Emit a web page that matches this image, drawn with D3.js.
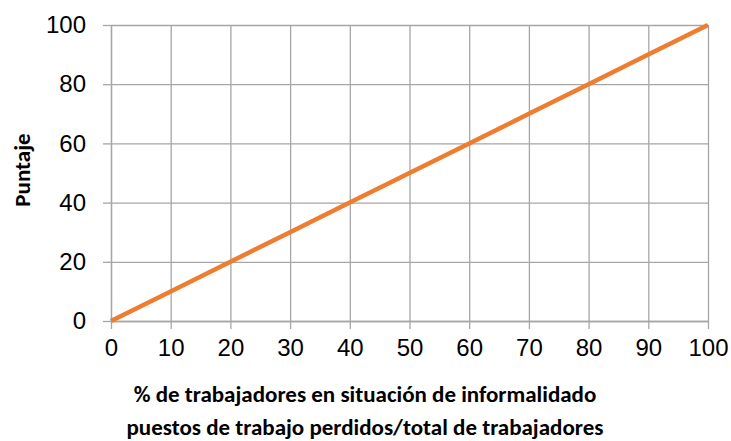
<!DOCTYPE html>
<html>
<head>
<meta charset="utf-8">
<script src="https://cdn.jsdelivr.net/npm/d3@7"></script>
<style>
  body { margin: 0; background: #fff; }
  svg { font-family: Carlito, "Liberation Sans", "DejaVu Sans", sans-serif; }
  .grid line { stroke: #a6a6a6; stroke-width: 1.3; }
  .grid path { display: none; }
  .axis text { font-size: 24px; fill: #000; }
  .axis path, .axis line { stroke: #a6a6a6; stroke-width: 1.3; }
</style>
</head>
<body>
<svg width="731" height="441"></svg>
<script>
//data
var xValues = [0, 10, 20, 30, 40, 50, 60, 70, 80, 90, 100];
var scores  = [0, 10, 20, 30, 40, 50, 60, 70, 80, 90, 100];
var xTicks = [0, 10, 20, 30, 40, 50, 60, 70, 80, 90, 100];
var yTicks = [0, 20, 40, 60, 80, 100];
var xTitle = ["% de trabajadores en situación de informalidado",
              "puestos de trabajo perdidos/total de trabajadores"];
var yTitle = "Puntaje";

var svg = d3.select("svg"),
    margin = {top: 25, right: 23, bottom: 120, left: 111},
    width = +svg.attr("width") - margin.left - margin.right,
    height = +svg.attr("height") - margin.top - margin.bottom;

var x = d3.scaleLinear().domain([0, 100]).range([0, width]),
    y = d3.scaleLinear().domain([0, 100]).range([height, 0]);

var g = svg.append("g")
    .attr("transform", "translate(" + margin.left + "," + margin.top + ")");

//vertical gridlines
g.append("g")
    .attr("class", "grid")
    .call(d3.axisBottom(x).tickValues(xTicks).tickSize(height).tickFormat(""));

//horizontal gridlines
g.append("g")
    .attr("class", "grid")
    .call(d3.axisLeft(y).tickValues(yTicks).tickSize(-width).tickFormat(""));

//x axis with the outside tick marks
g.append("g")
    .attr("class", "axis")
    .attr("transform", "translate(0," + height + ")")
    .call(d3.axisBottom(x).tickValues(xTicks).tickSize(8).tickSizeOuter(0).tickPadding(10));

//y axis
g.append("g")
    .attr("class", "axis")
    .call(d3.axisLeft(y).tickValues(yTicks).tickSize(8).tickSizeOuter(0).tickPadding(17));

//the line
var line = d3.line()
    .x(function(d, i) { return x(xValues[i]); })
    .y(function(d) { return y(d); });

g.append("path")
    .datum(scores)
    .attr("fill", "none")
    .attr("stroke", "#ED7D31")
    .attr("stroke-width", 4.5)
    .attr("d", line);

//axis titles, centred a bit left of the plot like the original
svg.selectAll("text.xtitle")
    .data(xTitle)
    .enter().append("text")
    .attr("class", "xtitle")
    .attr("x", 365)
    .attr("y", function(d, i) { return 402 + i * 33; })
    .attr("text-anchor", "middle")
    .style("font-size", "23px")
    .style("font-weight", "bold")
    .text(function(d) { return d; });

svg.append("text")
    .attr("transform", "translate(30," + 170 + ") rotate(-90)")
    .attr("text-anchor", "middle")
    .style("font-size", "23px")
    .style("font-weight", "bold")
    .text(yTitle);
</script>
</body>
</html>
